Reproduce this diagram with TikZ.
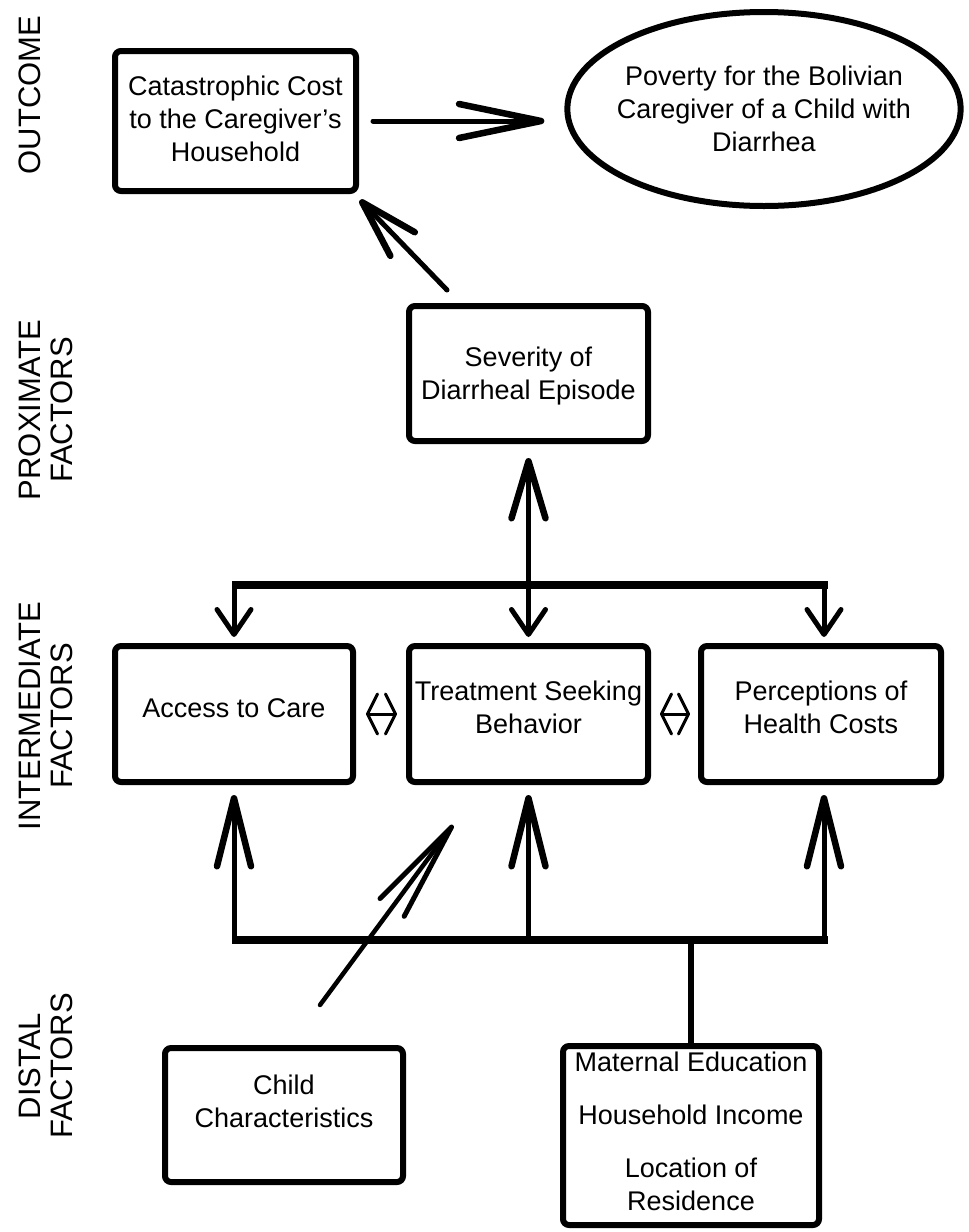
\documentclass[tikz,border=0pt]{standalone}
\usepackage{fontspec}
\setmainfont{Liberation Sans}
\usetikzlibrary{arrows.meta,shapes.geometric,calc}
\begin{document}
\begin{tikzpicture}[x=1pt,y=-1pt,
  txt/.style={align=center,inner sep=0pt,font=\fontsize{27}{33}\selectfont},
  box/.style={draw,line width=6pt,rounded corners=6pt,inner sep=0pt},
  ell/.style={draw,ellipse,line width=6pt,align=center,inner xsep=-8pt,inner ysep=0pt,
    minimum width=392pt,minimum height=194pt,font=\fontsize{27}{33}\selectfont},
  lbl/.style={rotate=90,align=center,font=\fontsize{31}{32}\selectfont},
  conn/.style={line width=5pt,line cap=round},
  bar/.style={line width=8pt},
  bigtip/.style={-{Straight Barb[length=#1,width=34pt,line width=6.5pt,round]}},
  smalltip/.style={-{Straight Barb[length=25pt,width=34pt,line width=5pt,round]}},
  dbl/.style={line width=3pt,{Straight Barb[length=10pt,width=40pt,line width=3pt,round]}-{Straight Barb[length=10pt,width=40pt,line width=3pt,round]}}
]
\useasboundingbox (0,0) rectangle (969,1232);

% side labels
\node[lbl] (lout) at (30,95) {OUTCOME};
\node[lbl] (lprox) at (46,410) {PROXIMATE\\FACTORS};
\node[lbl] (lint) at (46,716) {INTERMEDIATE\\FACTORS};
\node[lbl] (ldist) at (46,1066) {DISTAL\\FACTORS};

% boxes
\node[box,minimum width=241pt,minimum height=140pt,
  label={[txt,yshift=2pt]center:Catastrophic Cost\\to the Caregiver’s\\Household}] (cat) at (235.5,121) {};
\node[ell] (pov) at (764,109) {Poverty for the Bolivian\\Caregiver of a Child with\\Diarrhea};
\node[box,minimum width=239pt,minimum height=135pt,
  label={[txt,yshift=-3pt]center:Severity of\\Diarrheal Episode}] (sev) at (528.5,373.5) {};
\node[box,minimum width=238pt,minimum height=136pt,
  label={[txt,yshift=6pt]center:Access to Care}] (acc) at (234,714) {};
\node[box,minimum width=239pt,minimum height=136pt,
  label={[txt,yshift=7pt]center:Treatment Seeking\\Behavior}] (treat) at (528.5,714) {};
\node[box,minimum width=240pt,minimum height=136pt,
  label={[txt,yshift=7pt]center:Perceptions of\\Health Costs}] (perc) at (821,714) {};
\node[box,minimum width=238pt,minimum height=134pt,
  label={[txt,yshift=14pt]center:Child\\Characteristics}] (child) at (284,1115) {};
\node[box,minimum width=256pt,minimum height=179pt,
  label={[txt,yshift=4pt]center:Maternal Education\\[20pt]Household Income\\[20pt]Location of\\Residence}] (mat) at (691,1135.5) {};

% outcome arrows
\draw[conn,bigtip=82pt] (cat.east) [shorten <=14pt,shorten >=20pt] -- (cat.east -| pov.west);
\coordinate (sevtail) at (447,290);
\coordinate (cattip) at (360,200);
\draw[conn,bigtip=58pt] (sevtail) -- (cattip);

% top bar
\coordinate (tbL) at (232,585);
\coordinate (tbR) at (828,585);
\coordinate (tbA) at (234,585);
\coordinate (tbM) at (528.5,585);
\coordinate (tbP) at (824,585);
\draw[bar] (tbL) -- (tbR);
\draw[conn,bigtip=57pt] (tbM) [shorten >=14pt] -- (sev.south);
\draw[conn,smalltip] (tbA) [shorten >=6pt] -- (acc.north);
\draw[conn,smalltip] (tbM) [shorten >=6pt] -- (treat.north);
\draw[conn,smalltip] (tbP) [shorten >=6pt] -- (tbP |- perc.north);

% double arrows
\draw[dbl] (acc.east) [shorten <=10pt,shorten >=9pt] -- (treat.west);
\draw[dbl] (treat.east) [shorten <=9pt,shorten >=8pt] -- (perc.west);

% bottom bar
\coordinate (bbL) at (232,940);
\coordinate (bbR) at (828,940);
\coordinate (bbA) at (234,940);
\coordinate (bbM) at (528.5,940);
\coordinate (bbP) at (824,940);
\coordinate (bbX) at (691,940);
\draw[bar] (bbL) -- (bbR);
\draw[conn,bigtip=68pt] (bbA) [shorten >=10pt] -- (acc.south);
\draw[conn,bigtip=68pt] (bbM) [shorten >=10pt] -- (treat.south);
\draw[conn,bigtip=68pt] (bbP) [shorten >=10pt] -- (bbP |- perc.south);
\draw[line width=6pt] (bbX) -- (mat.north);

% child characteristics arrow
\coordinate (chtail) at (320,1005);
\coordinate (chtip) at (453,825);
\draw[line width=4.5pt,line cap=round,-{Straight Barb[length=100pt,width=30pt,line width=5pt,round]}] (chtail) -- (chtip);
\end{tikzpicture}
\end{document}
